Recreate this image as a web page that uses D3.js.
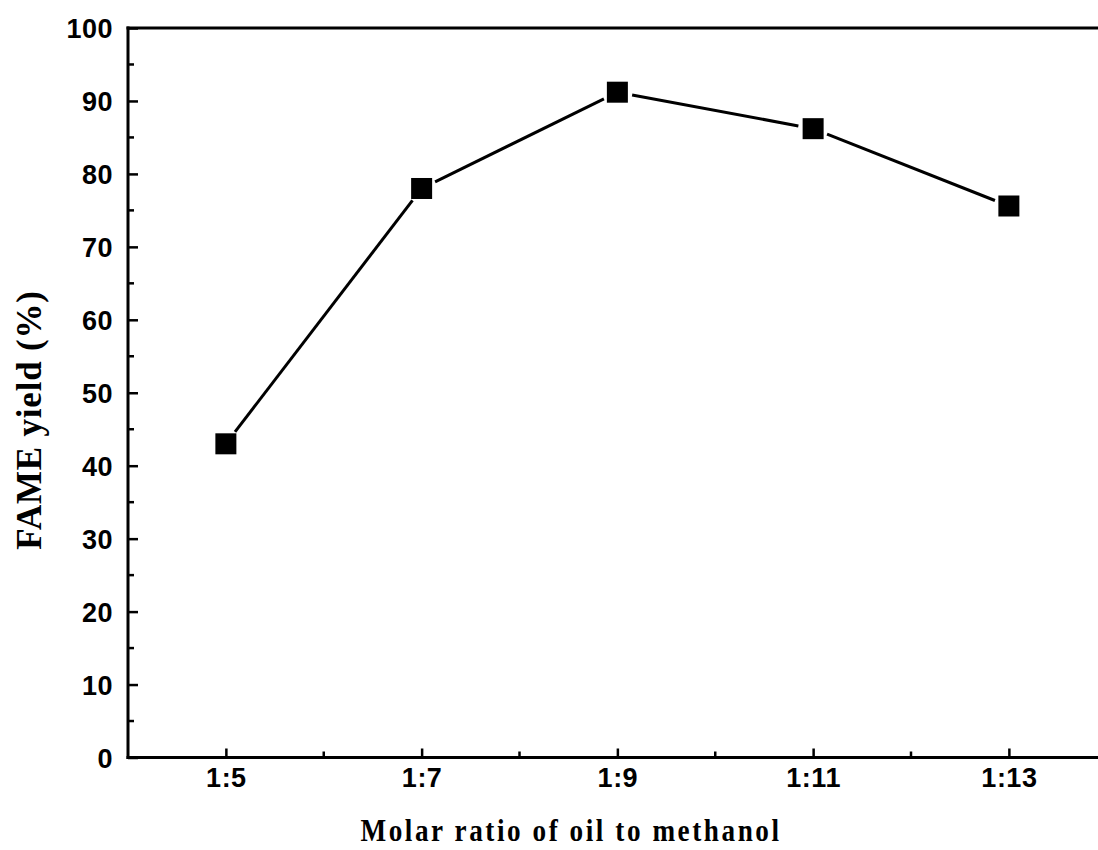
<!DOCTYPE html>
<html>
<head>
<meta charset="utf-8">
<script src="https://cdn.jsdelivr.net/npm/d3@7"></script>
<style>
  body { margin: 0; background: #fff; }
  svg { display: block; }
</style>
</head>
<body>
<svg width="1098" height="850"></svg>
<script>
// data
var ratios = [5, 7, 9, 11, 13];
var ratioLabels = ["1:5", "1:7", "1:9", "1:11", "1:13"];
var yieldValues = [43, 78, 91.2, 86.2, 75.6];
var yTicks = [0, 10, 20, 30, 40, 50, 60, 70, 80, 90, 100];

var svg = d3.select("svg");

var plotLeft = 128, plotTop = 28, plotBottom = 757.5;

// axis runs past the right edge of the picture
var x = d3.scaleLinear().domain([4, 14]).range([plotLeft, plotLeft + 10 * 97.875]);
var y = d3.scaleLinear().domain([0, 100]).range([plotBottom, plotTop]);

var points = ratios.map(function (r, i) { return { x: x(r), y: y(yieldValues[i]) }; });

var tickFont = "'Liberation Sans', Arial, sans-serif";

// frame top
var g = svg.append("g");
g.append("line").attr("x1", plotLeft - 1.5).attr("x2", 1100).attr("y1", plotTop).attr("y2", plotTop)
    .style("stroke", "#000").style("stroke-width", 3);

// y axis
var yAxis = d3.axisLeft(y).tickValues(yTicks).tickSize(-10).tickPadding(15).tickFormat(d3.format("d"));
var ya = g.append("g").attr("transform", "translate(" + plotLeft + ",0)").call(yAxis);
ya.select(".domain").attr("d", "M0," + (plotBottom + 1.5) + "V" + (plotTop - 1.5)).style("stroke-width", 3);
ya.selectAll(".tick line").style("stroke-width", 2.5);
ya.selectAll("text").style("font-family", tickFont)
    .style("font-weight", "bold").style("font-size", "27px").style("letter-spacing", "0.5px")
    .attr("dy", "0.36em");

// y minor ticks
var yMinor = d3.range(5, 100, 10);
g.append("g").selectAll("line").data(yMinor).enter().append("line")
    .attr("x1", plotLeft).attr("x2", plotLeft + 6)
    .attr("y1", function (d) { return y(d); }).attr("y2", function (d) { return y(d); })
    .style("stroke", "#000").style("stroke-width", 2.5);

// x axis
var xAxis = d3.axisBottom(x).tickValues(ratios).tickSize(-9).tickPadding(10)
    .tickFormat(function (d, i) { return ratioLabels[i]; });
var xa = g.append("g").attr("transform", "translate(0," + plotBottom + ")").call(xAxis);
xa.select(".domain").attr("d", "M" + (plotLeft - 1.5) + ",0H1100").style("stroke-width", 3);
xa.selectAll(".tick line").style("stroke-width", 2.5);
xa.selectAll("text").style("font-family", tickFont)
    .style("font-weight", "bold").style("font-size", "27px").style("letter-spacing", "0.5px")
    .attr("dy", "0.71em");

// x minor ticks
var xMinor = [6, 8, 10, 12];
g.append("g").selectAll("line").data(xMinor).enter().append("line")
    .attr("x1", function (d) { return x(d); }).attr("x2", function (d) { return x(d); })
    .attr("y1", plotBottom).attr("y2", plotBottom - 6)
    .style("stroke", "#000").style("stroke-width", 2.5);

// line segments with gaps around markers
var gap = 15;
var segs = d3.pairs(points).map(function (p) {
  var a = p[0], b = p[1];
  var dx = b.x - a.x, dy = b.y - a.y, len = Math.sqrt(dx * dx + dy * dy);
  var ux = dx / len, uy = dy / len;
  return { x1: a.x + ux * gap, y1: a.y + uy * gap, x2: b.x - ux * gap, y2: b.y - uy * gap };
});
g.append("g").selectAll("line").data(segs).enter().append("line")
    .attr("x1", function (d) { return d.x1; }).attr("y1", function (d) { return d.y1; })
    .attr("x2", function (d) { return d.x2; }).attr("y2", function (d) { return d.y2; })
    .style("stroke", "#000").style("stroke-width", 3);

// square markers
var ms = 21;
g.append("g").selectAll("rect").data(points).enter().append("rect")
    .attr("x", function (d) { return d.x - ms / 2; })
    .attr("y", function (d) { return d.y - ms / 2; })
    .attr("width", ms).attr("height", ms)
    .style("fill", "#000");

// axis titles (slightly condensed serif, spaced out)
svg.append("text")
    .attr("transform", "translate(571,841) scale(0.85,1)")
    .attr("text-anchor", "middle")
    .style("font-family", "'Liberation Serif', 'Times New Roman', serif")
    .style("font-weight", "bold").style("font-size", "32px").style("letter-spacing", "3px")
    .text("Molar ratio of oil to methanol");

svg.append("text")
    .attr("transform", "translate(41,420) rotate(-90)")
    .attr("text-anchor", "middle")
    .style("font-family", "'Liberation Serif', 'Times New Roman', serif")
    .style("font-weight", "bold").style("font-size", "35px").style("letter-spacing", "0.8px")
    .text("FAME yield (%)");
</script>
</body>
</html>
